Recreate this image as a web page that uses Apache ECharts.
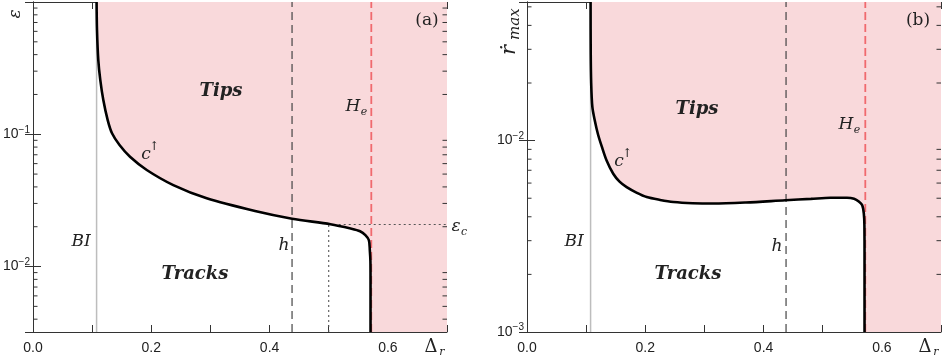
<!DOCTYPE html>
<html>
<head>
<meta charset="utf-8">
<script src="https://cdn.jsdelivr.net/npm/echarts@6/dist/echarts.min.js"></script>
<style>
  html, body { margin: 0; padding: 0; background: #fff; }
  #chart { width: 945px; height: 357px; }
</style>
</head>
<body>
<div id="chart"></div>
<script>
// x 范围
let xMin = 0, xMax = 0.7;
let xTickStep = 0.1;

// (a) epsilon 范围
let yMinA = 0.0032, yMaxA = 1;
// (b) r_max 范围
let yMinB = 0.001, yMaxB = 0.053;

// (a) c↑ 曲线
let curveAX = [0.1075, 0.1082, 0.1104, 0.1138, 0.1189, 0.1263, 0.1336, 0.1463, 0.164, 0.1923, 0.2372, 0.2937, 0.3754, 0.438, 0.503, 0.537, 0.553, 0.562, 0.568, 0.5695, 0.5705, 0.5707, 0.5707];
let curveAY = [1.0, 0.614, 0.364, 0.257, 0.1816, 0.128, 0.1017, 0.0829, 0.0676, 0.0537, 0.0413, 0.0328, 0.0263, 0.023, 0.0209, 0.0194, 0.0185, 0.0173, 0.0158, 0.0133, 0.011, 0.008, 0.0032];

// (b) c↑ 曲线
let curveBX = [0.1075, 0.1077, 0.1085, 0.1105, 0.1147, 0.12, 0.1265, 0.1346, 0.1458, 0.1565, 0.1685, 0.185, 0.2024, 0.225, 0.2475, 0.28, 0.315, 0.37, 0.4368, 0.48, 0.5132, 0.541, 0.553, 0.561, 0.5668, 0.5695, 0.5705, 0.5707, 0.5707];
let curveBY = [0.053, 0.03, 0.02, 0.015, 0.0127, 0.0108, 0.0093, 0.00787, 0.00671, 0.0061, 0.00571, 0.00535, 0.00507, 0.0049, 0.00478, 0.00471, 0.00469, 0.00475, 0.00488, 0.00496, 0.00503, 0.00503, 0.00497, 0.00481, 0.00459, 0.00416, 0.0036, 0.0025, 0.001];

// 竖线位置
let xBI = 0.1075;
let xH = 0.438;
let xHe = 0.572;
let xEpsC = 0.5;
let epsC = 0.0208;

// 刻度标签
let xLabels = [0, 0.2, 0.4, 0.6];
let yLabelExpA = [-1, -2];
let yLabelExpB = [-2, -3];
let minorMant = [2, 3, 4, 5, 6, 7, 8, 9];

let pink = "#f9d9db";
let redDash = "#f06a6e";
let serif = "'DejaVu Serif', serif";
let sans = "'Liberation Sans', Arial, sans-serif";

function minorValues(lo, hi) {
  let out = [];
  for (let e = -4; e <= 0; e++) {
    minorMant.forEach(function (m) {
      let v = m * Math.pow(10, e);
      if (v > lo && v < hi) out.push(v);
    });
  }
  return out;
}

function xLabelFmt(v) {
  for (let i = 0; i < xLabels.length; i++) {
    if (Math.abs(v - xLabels[i]) < 1e-6) return v.toFixed(1);
  }
  return "";
}
function yLabelFmt(exps) {
  return function (v) {
    let e = Math.log10(v);
    let r = Math.round(e);
    if (Math.abs(e - r) > 1e-6 || exps.indexOf(r) < 0) return "";
    return "{n|10}{s|\u2212" + -r + "}";
  };
}

let grids = [
  { left: 33, top: 2, width: 414, height: 330 },
  { left: 527, top: 2, width: 414, height: 330 },
];

function makeX(gridIndex, pos) {
  return {
    type: "value",
    gridIndex: gridIndex,
    position: pos,
    min: xMin,
    max: xMax,
    interval: xTickStep,
    axisLine: { show: true, lineStyle: { color: "#333", width: 1 } },
    axisTick: { show: true, inside: true, length: 7, lineStyle: { color: "#333" } },
    axisLabel: {
      show: pos === "bottom",
      formatter: xLabelFmt,
      color: "#222",
      fontFamily: sans,
      fontSize: 14,
      margin: 9,
    },
    splitLine: { show: false },
  };
}
function makeY(gridIndex, pos, lo, hi, exps) {
  return {
    type: "log",
    logBase: 10,
    gridIndex: gridIndex,
    position: pos,
    min: lo,
    max: hi,
    axisLine: { show: true, lineStyle: { color: "#333", width: 1 } },
    axisTick: { show: true, inside: true, length: 8, lineStyle: { color: "#333" } },
    axisLabel: {
      show: pos === "left",
      formatter: yLabelFmt(exps),
      margin: 3,
      rich: {
        n: { fontFamily: sans, fontSize: 14, color: "#222" },
        s: { fontFamily: sans, fontSize: 10, color: "#222", padding: [0, 0, 9, 0] },
      },
    },
    splitLine: { show: false },
  };
}

// 填充区域（曲线右上方）
function fillSeries(xi, cx, cy, lo, hi) {
  return {
    type: "custom",
    xAxisIndex: xi,
    yAxisIndex: xi,
    z: 1,
    silent: true,
    data: cx.map(function (x, i) { return [x, cy[i]]; }),
    renderItem: function (params, api) {
      if (params.dataIndex !== 0) return;
      let pts = cx.map(function (x, i) { return api.coord([x, cy[i]]); });
      pts.push(api.coord([xMax, lo]));
      pts.push(api.coord([xMax, hi]));
      return { type: "polygon", shape: { points: pts }, style: { fill: pink } };
    },
  };
}

// log 轴次刻度
function minorTickSeries(xi, lo, hi) {
  return {
    type: "custom",
    xAxisIndex: xi,
    yAxisIndex: xi,
    z: 10,
    silent: true,
    clip: false,
    data: minorValues(lo, hi).map(function (v) { return [xMin, v]; }),
    renderItem: function (params, api) {
      let v = api.value(1);
      let a = api.coord([xMin, v]);
      let b = api.coord([xMax, v]);
      let st = { stroke: "#333", lineWidth: 1 };
      return {
        type: "group",
        children: [
          { type: "line", shape: { x1: a[0], y1: a[1], x2: a[0] + 4.5, y2: a[1] }, style: st },
          { type: "line", shape: { x1: b[0] - 4.5, y1: b[1], x2: b[0], y2: b[1] }, style: st },
        ],
      };
    },
  };
}

function lineSeries(xi, pts, color, width, type, z) {
  return {
    type: "line",
    xAxisIndex: xi,
    yAxisIndex: xi,
    data: pts,
    showSymbol: false,
    silent: true,
    z: z,
    lineStyle: { color: color, width: width, type: type },
  };
}

function vline(xi, x, lo, hi, color, width, type, z) {
  return lineSeries(xi, [[x, lo], [x, hi]], color, width, type, z);
}

function curveSeries(xi, cx, cy) {
  let s = lineSeries(xi, cx.map(function (x, i) { return [x, cy[i]]; }), "#000", 2.6, "solid", 6);
  s.smooth = 0.3;
  return s;
}

let series = [
  // (a)
  fillSeries(0, curveAX, curveAY, yMinA, yMaxA),
  vline(0, xBI, yMinA, yMaxA, "#bdbdbd", 1.5, "solid", 2),
  vline(0, xH, yMinA, yMaxA, "#444", 1.2, [8, 5], 3),
  vline(0, xHe, yMinA, yMaxA, redDash, 1.8, [8, 4], 3),
  vline(0, xEpsC, yMinA, epsC, "#555", 1.1, [2, 3], 3),
  lineSeries(0, [[xEpsC, epsC], [xMax, epsC]], "#555", 1.1, [2, 3], 3),
  curveSeries(0, curveAX, curveAY),
  minorTickSeries(0, yMinA, yMaxA),
  // (b)
  fillSeries(2, curveBX, curveBY, yMinB, yMaxB),
  vline(2, xBI, yMinB, yMaxB, "#bdbdbd", 1.5, "solid", 2),
  vline(2, xH, yMinB, yMaxB, "#444", 1.2, [8, 5], 3),
  vline(2, xHe, yMinB, yMaxB, redDash, 1.8, [8, 4], 3),
  curveSeries(2, curveBX, curveBY),
  minorTickSeries(2, yMinB, yMaxB),
];

function txt(x, y, text, font, align) {
  return {
    type: "text",
    x: x,
    y: y,
    z: 100,
    style: {
      text: text,
      font: font,
      fill: "#222",
      align: align || "center",
      verticalAlign: "middle",
    },
  };
}

let it17 = "italic 17px " + serif;
let bold18 = "italic bold 18px " + serif;
let sub11 = "italic 11px " + serif;

let graphics = [
  // (a)
  txt(221, 91, "Tips", bold18),
  txt(195, 274, "Tracks", bold18),
  txt(81, 242, "BI", it17),
  txt(284, 246, "h", it17),
  txt(353, 107, "H", it17),
  txt(364, 112, "e", sub11),
  txt(146, 155, "c", it17),
  txt(154, 147, "\u2191", "12px " + serif),
  txt(427, 21, "(a)", "17px " + serif),
  txt(456, 227, "\u03b5", it17),
  txt(464, 232, "c", sub11),
  txt(431, 347, "\u0394", "18px " + serif),
  txt(442, 352, "r", sub11),
  {
    type: "group",
    x: 16,
    y: 14,
    rotation: Math.PI / 2,
    children: [txt(0, 0, "\u03b5", it17)],
  },
  // (b)
  txt(697, 109, "Tips", bold18),
  txt(688, 274, "Tracks", bold18),
  txt(574, 242, "BI", it17),
  txt(777, 247, "h", it17),
  txt(846, 125, "H", it17),
  txt(857, 130, "e", sub11),
  txt(619, 162, "c", it17),
  txt(627, 154, "\u2191", "12px " + serif),
  txt(918, 21, "(b)", "17px " + serif),
  txt(925, 347, "\u0394", "18px " + serif),
  txt(936, 352, "r", sub11),
  {
    type: "group",
    x: 510,
    y: 32,
    rotation: Math.PI / 2,
    children: [
      txt(-18, 0, "\u1e59", "italic 21px " + serif),
      txt(-8, 5, "max", "italic 15px " + serif, "left"),
    ],
  },
];

let chart = echarts.init(document.getElementById("chart"), null, { renderer: "canvas" });
chart.setOption({
  animation: false,
  backgroundColor: "#fff",
  grid: grids,
  xAxis: [makeX(0, "bottom"), makeX(0, "top"), makeX(1, "bottom"), makeX(1, "top")],
  yAxis: [
    makeY(0, "left", yMinA, yMaxA, yLabelExpA),
    makeY(0, "right", yMinA, yMaxA, yLabelExpA),
    makeY(1, "left", yMinB, yMaxB, yLabelExpB),
    makeY(1, "right", yMinB, yMaxB, yLabelExpB),
  ],
  series: series,
  graphic: graphics,
});
</script>
</body>
</html>
